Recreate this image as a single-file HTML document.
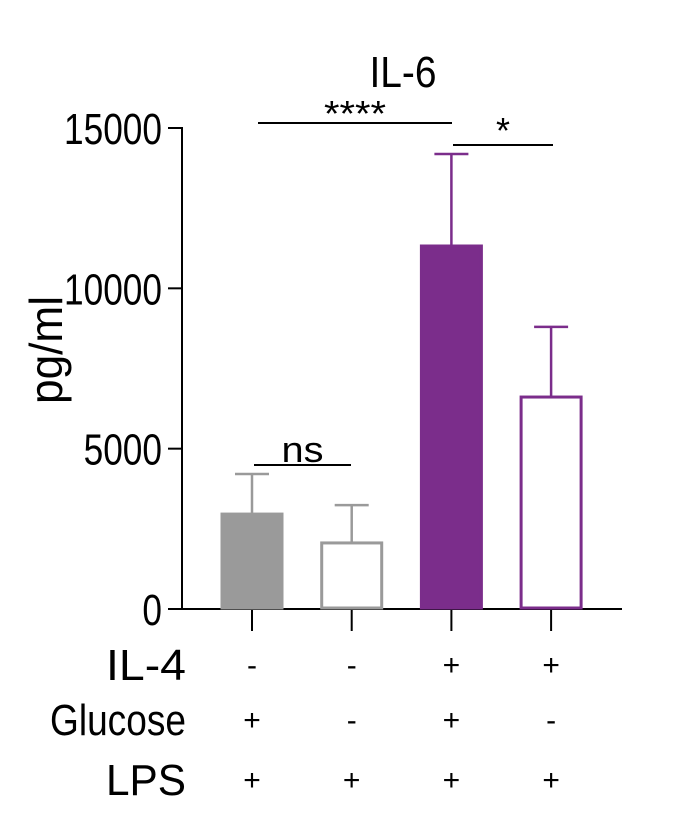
<!DOCTYPE html>
<html><head><meta charset="utf-8"><style>
html,body{margin:0;padding:0;background:#fff}
svg{display:block;font-family:"Liberation Sans",Arial,sans-serif}
</style></head><body>
<svg id="chart" width="682" height="817" viewBox="0 0 682 817" xmlns="http://www.w3.org/2000/svg">
<text x="403" y="87" font-size="44" text-anchor="middle" textLength="67" lengthAdjust="spacingAndGlyphs">IL-6</text>
<text transform="translate(62,350) rotate(-90)" font-size="46" text-anchor="middle" textLength="108" lengthAdjust="spacingAndGlyphs">pg/ml</text>
<g id="axes"></g>
<g id="bars"></g>
<g id="sig"></g>
<g id="table"></g>
</svg>
<script>
const categories = ["A","B","C","D"];
const means = [2960, 2060, 11320, 6610];
const errors = [1250, 1180, 2870, 2190];
const yTicks = [0, 5000, 10000, 15000];
const yTickLabels = ["0","5000","10000","15000"];
const rowLabels = ["IL-4","Glucose","LPS"];
const il4 = ["-","-","+","+"];
const glucose = ["+","-","+","-"];
const lps = ["+","+","+","+"];

const NS="http://www.w3.org/2000/svg";
const y0=609, yTop=128, yMax=15000;
const X0=182, X1=622;
function y(v){return y0-(v/yMax)*(y0-yTop);}
function xc(i){return 252+i*99.7;}
function mk(tag,attrs,parent){const e=document.createElementNS(NS,tag);for(const k in attrs)e.setAttribute(k,attrs[k]);parent.appendChild(e);return e;}
const axes=document.getElementById('axes'),bars=document.getElementById('bars'),sig=document.getElementById('sig'),table=document.getElementById('table');

let a=mk('line',{x1:X0,y1:y(yMax)-1,x2:X0,y2:y0,stroke:'#000','stroke-width':2},axes);


a=mk('line',{x1:X0-1,y1:y0,x2:X1,y2:y0,stroke:'#000','stroke-width':2},axes);


yTicks.forEach((t,i)=>{
  const l=mk('line',{x1:X0-14,y1:y(t),x2:X0,y2:y(t),stroke:'#000','stroke-width':2},axes);
  
  
  const lab=yTickLabels[i];
  const tx=mk('text',{x:X0-20,y:y(t)+16,'font-size':44,'text-anchor':'end',textLength:lab.length*19.6,lengthAdjust:'spacingAndGlyphs'},axes);
  tx.textContent=lab;
  
  
});
const fills=['#9a9a9a','#fff','#7b2d8b','#fff'];
const strokes=['#9a9a9a','#9a9a9a','#7b2d8b','#7b2d8b'];
const bw=63;
categories.forEach((c,i)=>{
  const cx=xc(i);
  const e=mk('line',{x1:cx,y1:y(means[i]),x2:cx,y2:y(means[i]+errors[i]),stroke:strokes[i],'stroke-width':2.5},bars);
  
  
  const cap=mk('line',{x1:cx-17,y1:y(means[i]+errors[i]),x2:cx+17,y2:y(means[i]+errors[i]),stroke:strokes[i],'stroke-width':2.5},bars);
  
  
  const r=mk('rect',{x:cx-bw/2+1.5,y:y(means[i]),width:bw-3,height:y0-y(means[i])-1,fill:fills[i],stroke:strokes[i],'stroke-width':3},bars);
  
  
  const tk=mk('line',{x1:cx,y1:y0,x2:cx,y2:y0+22,stroke:'#000','stroke-width':2},axes);
  
  
});
function sigLine(x1,x2,yy,label,ly,len,name){
  const l=mk('line',{x1:x1,y1:yy,x2:x2,y2:yy,stroke:'#000','stroke-width':2},sig);
  
  
  const t=mk('text',{x:(x1+x2)/2,y:ly,'font-size':36,'text-anchor':'middle',textLength:len,lengthAdjust:'spacingAndGlyphs'},sig);
  t.textContent=label;
  
  
}
sigLine(258,452,123,'****',126,62,'sig-4stars');
sigLine(453,553,145,'*',143,14,'sig-1star');
sigLine(254,351,465,'ns',462,42,'sig-ns');

const rowsY=[680,735,795];
const rowW=[80,136,80];
const rows=[il4,glucose,lps];
rowLabels.forEach((r,j)=>{
  const t=mk('text',{x:186,y:rowsY[j],'font-size':44,'text-anchor':'end',textLength:rowW[j],lengthAdjust:'spacingAndGlyphs'},table);
  t.textContent=r;
  
  
  rows[j].forEach((s,i)=>{
    const st=mk('text',{x:xc(i),y:rowsY[j]-5,'font-size':30,'text-anchor':'middle'},table);
    st.textContent=s;
    
    
  });
});
</script>
</body></html>
